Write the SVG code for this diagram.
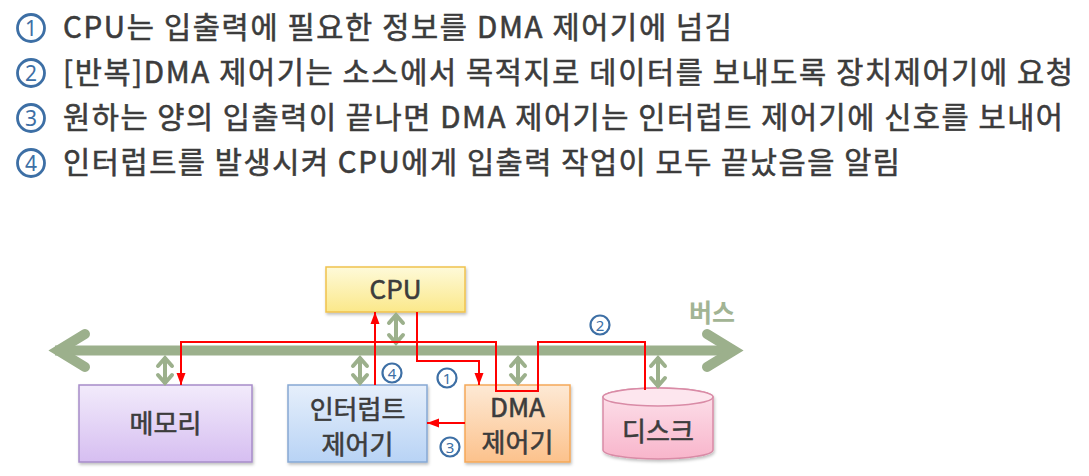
<svg xmlns="http://www.w3.org/2000/svg" width="1089" height="476" viewBox="0 0 1089 476">
<defs>
<style>
.t{font-family:"Noto Sans CJK KR","Noto Sans",sans-serif;font-weight:400;fill:#3c3c3c;stroke:#3c3c3c;stroke-width:0.6px}
.top{font-size:29.5px}
.cn{fill:none;stroke:#3d6fa5}
.cd{font-family:"Noto Sans","Noto Sans CJK KR",sans-serif;fill:#3d6fa5;text-anchor:middle}
.lbl{font-size:26px;text-anchor:middle}
.red{fill:none;stroke:#ff0000;stroke-width:2;marker-end:url(#ra)}
.grn{fill:none;stroke:#9cb08c;stroke-width:4;marker-start:url(#ga);marker-end:url(#ga)}
</style>
<marker id="ra" markerUnits="userSpaceOnUse" markerWidth="13" markerHeight="10" refX="12" refY="5" orient="auto">
<path d="M0,0.5 L12,5 L0,9.5 z" fill="#ff0000"/>
</marker>
<marker id="ga" markerUnits="userSpaceOnUse" markerWidth="20" markerHeight="20" refX="13" refY="10" orient="auto-start-reverse">
<path d="M4,3 L12,10 L4,17" fill="none" stroke="#9cb08c" stroke-width="4" stroke-linecap="round" stroke-linejoin="miter"/>
</marker>
<linearGradient id="gCpu" x1="0" y1="0" x2="0" y2="1"><stop offset="0" stop-color="#fefad9"/><stop offset="1" stop-color="#fbe88a"/></linearGradient>
<linearGradient id="gMem" x1="0" y1="0" x2="0" y2="1"><stop offset="0" stop-color="#f2ebfb"/><stop offset="1" stop-color="#d6bef1"/></linearGradient>
<linearGradient id="gInt" x1="0" y1="0" x2="0" y2="1"><stop offset="0" stop-color="#e6effb"/><stop offset="1" stop-color="#b8d3f5"/></linearGradient>
<linearGradient id="gDma" x1="0" y1="0" x2="0" y2="1"><stop offset="0" stop-color="#fde9d5"/><stop offset="1" stop-color="#fcc28c"/></linearGradient>
<linearGradient id="gDsk" x1="0" y1="0" x2="0" y2="1"><stop offset="0" stop-color="#fde3ec"/><stop offset="1" stop-color="#f8b5cb"/></linearGradient>
<filter id="sh" x="-10%" y="-10%" width="130%" height="140%">
<feDropShadow dx="1" dy="2" stdDeviation="1.5" flood-color="#000" flood-opacity="0.25"/>
</filter>
</defs>
<rect width="1089" height="476" fill="#ffffff"/>

<g id="legend">
<circle class="cn" cx="31" cy="28" r="13.5" stroke-width="2.8"/>
<text class="cd" x="31" y="35.5" font-size="21">1</text>
<text class="t top" x="63" y="38" textLength="669" lengthAdjust="spacing">CPU는 입출력에 필요한 정보를 DMA 제어기에 넘김</text>
<circle class="cn" cx="31" cy="73" r="13.5" stroke-width="2.8"/>
<text class="cd" x="31" y="80.5" font-size="21">2</text>
<text class="t top" x="63" y="83" textLength="1010" lengthAdjust="spacing">[반복]DMA 제어기는 소스에서 목적지로 데이터를 보내도록 장치제어기에 요청</text>
<circle class="cn" cx="31" cy="118" r="13.5" stroke-width="2.8"/>
<text class="cd" x="31" y="125.5" font-size="21">3</text>
<text class="t top" x="63" y="128" textLength="1000" lengthAdjust="spacing">원하는 양의 입출력이 끝나면 DMA 제어기는 인터럽트 제어기에 신호를 보내어</text>
<circle class="cn" cx="31" cy="163" r="13.5" stroke-width="2.8"/>
<text class="cd" x="31" y="170.5" font-size="21">4</text>
<text class="t top" x="63" y="173" textLength="837" lengthAdjust="spacing">인터럽트를 발생시켜 CPU에게 입출력 작업이 모두 끝났음을 알림</text>
</g>

<g id="bus">
<line x1="55" y1="350.5" x2="735" y2="350.5" stroke="#9cb08c" stroke-width="10"/>
<polyline points="85,334 58,350.5 85,367" fill="none" stroke="#9cb08c" stroke-width="10" stroke-linecap="round" stroke-linejoin="miter"/>
<polyline points="707,334 734,350.5 707,367" fill="none" stroke="#9cb08c" stroke-width="10" stroke-linecap="round" stroke-linejoin="miter"/>
<text x="712" y="322" font-family="Noto Sans CJK KR, sans-serif" font-weight="700" font-size="25" fill="#a2b494" text-anchor="middle">버스</text>
</g>

<g id="cpu">
<rect x="326" y="267" width="139" height="45" fill="url(#gCpu)" stroke="#f0c24c" stroke-width="1.5" filter="url(#sh)"/>
<text class="t lbl" x="395.5" y="299">CPU</text>
</g>

<g id="memory">
<rect x="79" y="385" width="173" height="77" fill="url(#gMem)" stroke="#a78cc9" stroke-width="1.5" filter="url(#sh)"/>
<text class="t lbl" x="165.5" y="433">메모리</text>
</g>

<g id="interrupt">
<rect x="288" y="385" width="139" height="77" fill="url(#gInt)" stroke="#86a8d4" stroke-width="1.5" filter="url(#sh)"/>
<text class="t lbl" x="357.5" y="419">인터럽트</text>
<text class="t lbl" x="357.5" y="454">제어기</text>
</g>

<g id="dma">
<rect x="465" y="385" width="105" height="77" fill="url(#gDma)" stroke="#f5a858" stroke-width="1.5" filter="url(#sh)"/>
<text class="t lbl" x="517.5" y="417">DMA</text>
<text class="t lbl" x="517.5" y="452">제어기</text>
</g>

<g id="disk">
<path d="M603,397 A55,9 0 0 1 713,397 V450 A55,9 0 0 1 603,450 Z" fill="url(#gDsk)" stroke="#d98ba6" stroke-width="1.5" filter="url(#sh)"/>
<ellipse cx="658" cy="397" rx="55" ry="9" fill="#fde6ee" stroke="#d98ba6" stroke-width="1.5"/>
<text class="t lbl" x="658" y="441">디스크</text>
</g>

<g id="connectors">
<line class="grn" x1="165" y1="357" x2="165" y2="384"/>
<line class="grn" x1="360" y1="357" x2="360" y2="384"/>
<line class="grn" x1="396" y1="314" x2="396" y2="344"/>
<line class="grn" x1="518" y1="357" x2="518" y2="384"/>
<line class="grn" x1="658" y1="357" x2="658" y2="387"/>
<path class="red" d="M645,390 V342 H538 V391 H496 V342 H181 V385"/>
<path class="red" d="M417,312 V361 H479 V385"/>
<path class="red" d="M375,385 V312"/>
<path class="red" d="M465,423 H427"/>
</g>

<g id="steps">
<circle class="cn" cx="392" cy="373" r="9.5" stroke-width="2.2"/>
<text class="cd" x="392" y="378.5" font-size="15">4</text>
<circle class="cn" cx="447" cy="378" r="9.5" stroke-width="2.2"/>
<text class="cd" x="447" y="383.5" font-size="15">1</text>
<circle class="cn" cx="450" cy="447" r="9.5" stroke-width="2.2"/>
<text class="cd" x="450" y="452.5" font-size="15">3</text>
<circle class="cn" cx="600" cy="325" r="9.5" stroke-width="2.2"/>
<text class="cd" x="600" y="330.5" font-size="15">2</text>
</g>
</svg>
